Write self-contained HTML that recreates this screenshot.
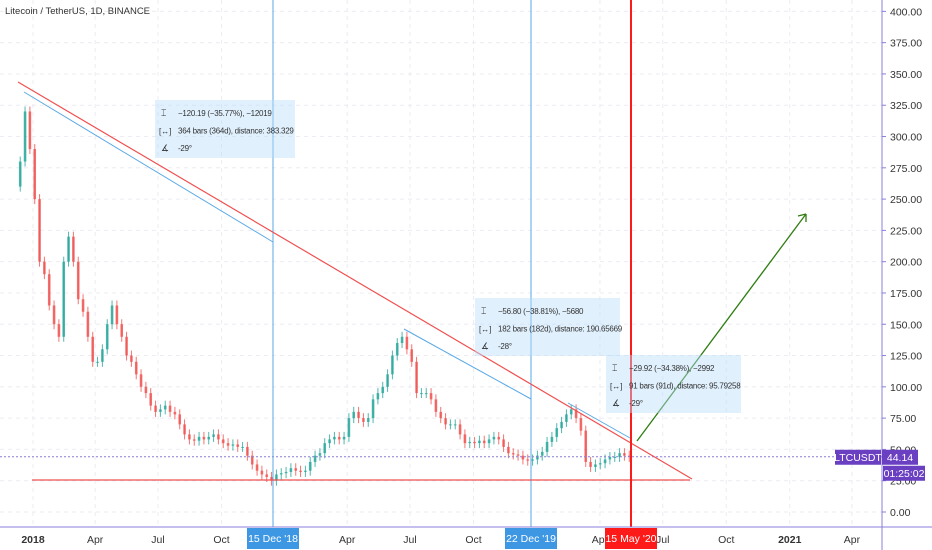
<!DOCTYPE html>
<html><head><meta charset="utf-8">
<style>
body{margin:0;background:#fff;font-family:"Liberation Sans",sans-serif;}
#wrap{position:relative;width:932px;height:550px;overflow:hidden;}
svg text{font-family:"Liberation Sans",sans-serif;}
</style></head>
<body>
<div id="wrap">
<svg id="chart" width="932" height="550"></svg>
</div>
<script>
// weekly closes, LTC/USDT, starting week of 10 Dec 2017 (13 weeks per quarter)
const startDay = -22; // days from 1 Jan 2018
const closes = [
 280,320,290,
 250,200,190,165,150,140,200,220,200,170,160,140,120,
 120,130,150,165,150,140,125,120,110,100,95,85,80,
 82,85,80,78,70,62,58,57,60,58,60,62,58,
 55,53,54,52,52,45,38,33,30,28,25,30,31,
 32,35,33,32,33,40,45,47,55,58,60,58,60,
 75,80,75,72,75,90,95,100,110,125,135,140,130,
 120,95,95,95,90,80,75,70,70,70,62,55,56,
 55,57,55,58,60,58,52,47,46,45,42,41,42,
 45,48,56,60,67,72,78,82,75,65,40,36,38,
 39,42,44,44,47,45,44];
const firstOpen = 260;
const priceTicks = [0,25,50,75,100,125,150,175,200,225,250,275,300,325,350,375,400];
const timeLabels = ["2018","Apr","Jul","Oct","Apr","Jul","Oct","Apr","Jul","Oct","2021","Apr"];
const timeLabelDays = [0,90,181,273,455,546,638,821,912,1004,1096,1186];
const lastPrice = 44.14;

const X0=33, PXD=0.6905, Y0=512, PPU=31.29/25;
const xd = d => X0 + d*PXD;
const yp = p => Y0 - p*PPU;
const svg = document.getElementById('chart');
const NS='http://www.w3.org/2000/svg';
function mk(tag, attrs, parent){const e=document.createElementNS(NS,tag);for(const k in attrs)e.setAttribute(k,attrs[k]);(parent||svg).appendChild(e);return e;}

// grid
const grid = mk('g',{});


priceTicks.forEach(p=>{mk('line',{x1:0,x2:882,y1:yp(p),y2:yp(p),stroke:'#ececf2','stroke-dasharray':'4,4'},grid);});
timeLabelDays.forEach(d=>{mk('line',{x1:xd(d),x2:xd(d),y1:0,y2:527,stroke:'#ececf2','stroke-dasharray':'4,4'},grid);});

// candles
const cg = mk('g',{});


let prev = firstOpen;
closes.forEach((c,i)=>{
  const o=prev, x=xd(startDay+i*7+3.5);
  const up=c>=o, col=up?'#26a69a':'#ef5350';
  const top=yp(Math.max(o,c)), bot=yp(Math.min(o,c));
  const w=mk('line',{x1:x,x2:x,y1:top-5,y2:bot+5,stroke:col,'stroke-width':1,opacity:0.8},cg);
  
  
  const r=mk('rect',{x:x-1.3,y:top,width:2.6,height:Math.max(1,bot-top),fill:col,opacity:0.8},cg);
  
  
  prev=c;
});

// drawings
function line(x1,y1,x2,y2,col,w,name){const l=mk('line',{x1,y1,x2,y2,stroke:col,'stroke-width':w});
  
  
  return l;}
line(0,yp(lastPrice),882,yp(lastPrice),'#8a7fd8',1,'last-price-line').setAttribute('stroke-dasharray','2,2');
line(273,0,273,527,'#5aa9e6',1,'vertical-line-dec-2018');
line(531,0,531,527,'#5aa9e6',1,'vertical-line-dec-2019');
line(18,82,692,479,'#f05050',1.2,'resistance-trendline');
line(32,480,690,480,'#f05050',1.2,'support-line');
line(24,92,273,242,'#5aa9e6',1,'measure-line-1');
line(404,329,531,399,'#5aa9e6',1,'measure-line-2');
line(568,403,630,438,'#5aa9e6',1,'measure-line-3');
line(637,441,806,214,'#2e7d12',1.3,'projection-arrow');
line(806,214,798,216,'#2e7d12',1.3,'arrow-head-a');
line(806,214,806,222,'#2e7d12',1.3,'arrow-head-b');
line(631,0,631,527,'#ff1a1a',2,'vertical-line-may-2020');

// info boxes
function box(x,y,w,lines,name){
  const g=mk('g',{});
  
  
  mk('rect',{x,y,width:w,height:58,fill:'rgba(187,222,251,0.45)'},g);
  mk('text',{x:x+6,y:y+16,'font-size':9,fill:'#333'},g).textContent='⌶';
  mk('text',{x:x+4,y:y+34,'font-size':8,fill:'#333'},g).textContent='[↔]';
  mk('text',{x:x+6,y:y+51,'font-size':9,fill:'#333'},g).textContent='∡';
  lines.forEach((t,i)=>{mk('text',{x:x+23,y:y+16+i*17.5,'font-size':8,'letter-spacing':'-0.25',fill:'#333'},g).textContent=t;});
}
box(155,100,140,['−120.19 (−35.77%), −12019','364 bars (364d), distance: 383.329','-29°'],'measure-box-1');
box(475,298,145,['−56.80 (−38.81%), −5680','182 bars (182d), distance: 190.65669','-28°'],'measure-box-2');
box(606,355,135,['−29.92 (−34.38%), −2992','91 bars (91d), distance: 95.79258','-29°'],'measure-box-3');

// axes
line(882,0,882,550,'#8a7fd8',1,'price-axis-line');
line(0,527,932,527,'#8a7fd8',1,'time-axis-line');
const pa=mk('g',{});


priceTicks.forEach(p=>{
  mk('line',{x1:882,x2:886,y1:yp(p),y2:yp(p),stroke:'#8a7fd8'},pa);
  const t=mk('text',{x:890,y:yp(p)+4,'font-size':10.5,fill:'#333'},pa);t.textContent=p.toFixed(2);
});
const ta=mk('g',{});


timeLabels.forEach((l,i)=>{
  const t=mk('text',{x:xd(timeLabelDays[i]),y:543,'font-size':10.5,fill:'#333','text-anchor':'middle','font-weight':l.length===4?'bold':'normal'},ta);t.textContent=l;
});
function tag(cx,txt,col,name){
  const g=mk('g',{});
  
  
  mk('rect',{x:cx-26,y:528,width:52,height:21,fill:col},g);
  mk('text',{x:cx,y:542,'font-size':10.5,fill:'#fff','text-anchor':'middle'},g).textContent=txt;
}
tag(273,"15 Dec '18",'#3d97e3','date-tag-dec-2018');
tag(531,"22 Dec '19",'#3d97e3','date-tag-dec-2019');
tag(631,"15 May '20",'#ff1a1a','date-tag-may-2020');
const lp=mk('g',{});


const ly=yp(lastPrice);
mk('rect',{x:835,y:ly-7,width:46,height:15,fill:'#6a3fc1'},lp);
mk('text',{x:858,y:ly+4,'font-size':10.5,fill:'#fff','text-anchor':'middle'},lp).textContent='LTCUSDT';
mk('rect',{x:882,y:ly-7,width:36,height:15,fill:'#6a3fc1'},lp);
mk('text',{x:900,y:ly+4,'font-size':10.5,fill:'#fff','text-anchor':'middle'},lp).textContent=lastPrice.toFixed(2);
mk('rect',{x:883,y:ly+9,width:42,height:15,fill:'#6a3fc1'},lp);
mk('text',{x:904,y:ly+20,'font-size':10.5,fill:'#fff','text-anchor':'middle'},lp).textContent='01:25:02';

const title=mk('text',{x:5,y:14,'font-size':9.5,fill:'#333'});


title.textContent='Litecoin / TetherUS, 1D, BINANCE';
</script>
</body></html>
